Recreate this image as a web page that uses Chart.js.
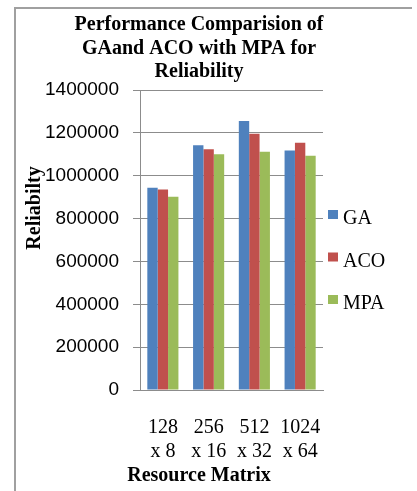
<!DOCTYPE html>
<html>
<head>
<meta charset="utf-8">
<script src="https://cdn.jsdelivr.net/npm/chart.js@4.4.1/dist/chart.umd.min.js"></script>
<style>
  html, body { margin: 0; padding: 0; background: #fff; }
</style>
</head>
<body>
<canvas id="chart" width="417" height="491"></canvas>
<script>
const matrices = [['128', 'x 8'], ['256', 'x 16'], ['512', 'x 32'], ['1024', 'x 64']];
const gaValues = [944000, 1142000, 1255000, 1118000];
const acoValues = [936000, 1123000, 1196000, 1154000];
const mpaValues = [902000, 1100000, 1112000, 1093000];
const seriesNames = ['GA', 'ACO', 'MPA'];
const titleLines = ['Performance Comparision of', 'GAand ACO with MPA for', 'Reliability'];
const yTitle = 'Reliabilty';
const xTitle = 'Resource Matrix';

const COLORS = { ga: '#4F81BD', aco: '#C0504D', mpa: '#9BBB59', grid: '#8C8C8C', frame: '#A0A0A0' };
const SERIF = '"Liberation Serif", "Times New Roman", serif';
const SANS = '"Liberation Sans", Arial, sans-serif';

// title, axis titles, legend and the frame are drawn here
const decor = {
  id: 'decor',
  afterDraw(chart) {
    const ctx = chart.ctx;
    ctx.save();
    ctx.strokeStyle = COLORS.frame;
    ctx.lineWidth = 2;
    ctx.beginPath();
    ctx.moveTo(412, 8); ctx.lineTo(15, 8); ctx.lineTo(15, 491);
    ctx.stroke();

    ctx.fillStyle = '#000';
    ctx.textAlign = 'center';
    ctx.textBaseline = 'alphabetic';
    ctx.font = 'bold 20px ' + SERIF;
    titleLines.forEach((t, i) => ctx.fillText(t, 199, 30 + i * 23.5));
    ctx.fillText(xTitle, 199, 481);

    ctx.save();
    ctx.translate(35, 208);
    ctx.rotate(-Math.PI / 2);
    ctx.textBaseline = 'middle';
    ctx.fillText(yTitle, 0, 0);
    ctx.restore();

    ctx.textAlign = 'left';
    ctx.font = '20px ' + SERIF;
    chart.data.datasets.forEach((ds, i) => {
      const y = 210 + i * 42.5;
      ctx.fillStyle = ds.backgroundColor;
      ctx.fillRect(328, y, 10, 9);
      ctx.fillStyle = '#000';
      ctx.fillText(ds.label, 343, y + 14);
    });
    ctx.restore();
  }
};

new Chart(document.getElementById('chart'), {
  type: 'bar',
  data: {
    labels: matrices,
    datasets: [
      { label: seriesNames[0], data: gaValues, backgroundColor: COLORS.ga },
      { label: seriesNames[1], data: acoValues, backgroundColor: COLORS.aco },
      { label: seriesNames[2], data: mpaValues, backgroundColor: COLORS.mpa }
    ]
  },
  options: {
    responsive: false, animation: false,
    layout: { padding: { left: 0, top: 90, right: 94, bottom: 0 } },
    datasets: { bar: { categoryPercentage: 0.68, barPercentage: 1 } },
    plugins: { legend: { display: false }, title: { display: false }, tooltip: { enabled: false } },
    scales: {
      x: {
        grid: { display: false },
        border: { color: COLORS.grid },
        ticks: { color: '#000', font: { family: SERIF, size: 20, lineHeight: 1.2 }, padding: 18, maxRotation: 0 },
        afterFit: s => { s.height = 101; }
      },
      y: {
        min: 0, max: 1400000,
        grid: { color: COLORS.grid, tickLength: 7 },
        border: { color: COLORS.grid },
        ticks: { stepSize: 200000, color: '#000', font: { family: SANS, size: 19 }, padding: 14, callback: v => String(v) },
        afterFit: s => { s.width = 140; }
      }
    }
  },
  plugins: [decor]
});
</script>
</body>
</html>
